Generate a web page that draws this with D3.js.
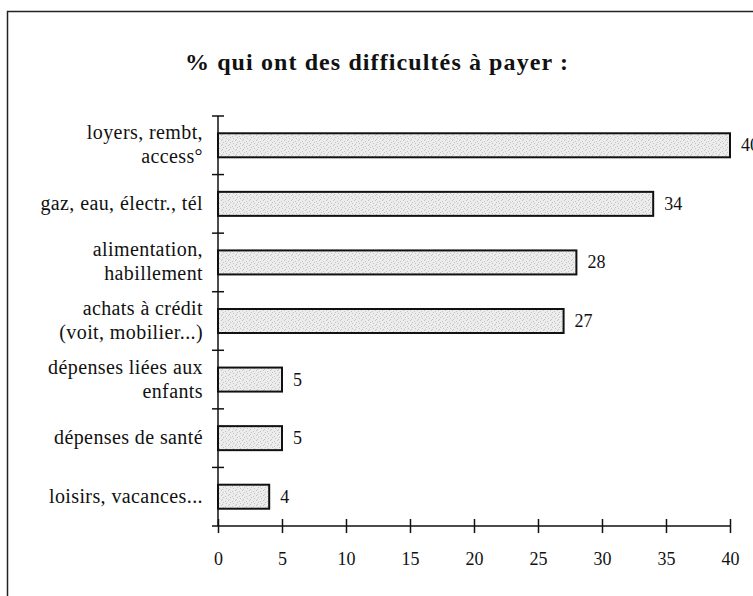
<!DOCTYPE html>
<html>
<head>
<meta charset="utf-8">
<style>
  body { margin: 0; background: #fff; }
  svg text { font-family: "Liberation Serif", "DejaVu Serif", serif; fill: #111; }
</style>
</head>
<body>
<script src="https://d3js.org/d3.v7.min.js"></script>
<script>

  // data
  var categories = [
    ["loyers, rembt,", "access°"],
    ["gaz, eau, électr., tél"],
    ["alimentation,", "habillement"],
    ["achats à crédit", "(voit, mobilier...)"],
    ["dépenses liées aux", "enfants"],
    ["dépenses de santé"],
    ["loisirs, vacances..."]
  ];
  var values = [40, 34, 28, 27, 5, 5, 4];
  var tickValues = [0, 5, 10, 15, 20, 25, 30, 35, 40];
  var title = "% qui ont des difficultés à payer :";

  var width = 753;
  var height = 596;

  var svg = d3.select("body")
      .append("svg")
      .attr("width", width)
      .attr("height", height)
      .attr("font-family", "'Liberation Serif', serif");

  // speckled grey fill like the scanned bars
  var pat = svg.append("defs").append("pattern")
      .attr("id", "speckle")
      .attr("patternUnits", "userSpaceOnUse")
      .attr("width", 7)
      .attr("height", 5);
  pat.append("rect").attr("width", 7).attr("height", 5).attr("fill", "#ececec");
  [[1, 1], [4, 0], [2, 3], [6, 2], [5, 4]].forEach(function (p) {
    pat.append("rect").attr("x", p[0]).attr("y", p[1])
        .attr("width", 1).attr("height", 1).attr("fill", "#c4c4c4");
  });

  // frame of the original page
  svg.append("path")
      .attr("d", "M7.5," + height + "V11.5H" + width)
      .attr("fill", "none")
      .attr("stroke", "#222")
      .attr("stroke-width", 1.5);

  svg.append("text")
      .attr("x", 377)
      .attr("y", 70)
      .attr("text-anchor", "middle")
      .style("font-size", "24px")
      .style("font-weight", "bold")
      .style("letter-spacing", "1.1px")
      .text(title);

  var idx = d3.range(values.length);

  var x = d3.scaleLinear()
      .domain([0, 40])
      .range([218, 730]);

  var y = d3.scaleBand()
      .domain(idx)
      .range([116, 526])
      .padding(0);

  var barH = y.bandwidth() * 0.41;

  // y axis line and ticks at category boundaries
  svg.append("line")
      .attr("x1", x(0)).attr("x2", x(0))
      .attr("y1", y.range()[0]).attr("y2", y.range()[1])
      .attr("stroke", "#111").attr("stroke-width", 1.5);

  var bounds = idx.map(function (i) { return y(i); });
  svg.selectAll(".ytick")
      .data(bounds)
      .enter()
        .append("line")
        .attr("class", "ytick")
        .attr("x1", x(0) - 6).attr("x2", x(0) + 6)
        .attr("y1", function (d) { return d; })
        .attr("y2", function (d) { return d; })
        .attr("stroke", "#111").attr("stroke-width", 1.5);

  // x axis
  var xAxis = d3.axisBottom(x)
      .tickValues(tickValues)
      .tickSize(14)
      .tickPadding(19);

  var gx = svg.append("g")
      .attr("transform", "translate(0," + (y.range()[1] - 7) + ")")
      .call(xAxis);
  gx.select(".domain").remove();
  gx.selectAll("line").attr("stroke", "#111").attr("stroke-width", 1.5);
  gx.selectAll("text")
      .style("font-size", "18px")
      .style("font-family", "'Liberation Serif', serif")
      .attr("fill", "#111");

  svg.append("line")
      .attr("x1", x(0) - 6).attr("x2", x(40))
      .attr("y1", y.range()[1]).attr("y2", y.range()[1])
      .attr("stroke", "#111").attr("stroke-width", 1.5);

  // bars
  svg.selectAll(".bar")
      .data(values)
      .enter()
        .append("rect")
        .attr("class", "bar")
        .attr("x", x(0))
        .attr("y", function (d, i) { return y(i) + (y.bandwidth() - barH) / 2; })
        .attr("width", function (d) { return x(d) - x(0); })
        .attr("height", barH)
        .attr("fill", "url(#speckle)")
        .attr("stroke", "#111")
        .attr("stroke-width", 2);

  // value labels
  svg.selectAll(".val")
      .data(values)
      .enter()
        .append("text")
        .attr("class", "val")
        .attr("x", function (d) { return x(d) + 11; })
        .attr("y", function (d, i) { return y(i) + y.bandwidth() / 2 + 6; })
        .style("font-size", "18px")
        .text(function (d) { return d; });

  // category labels, one or two lines
  var lab = svg.selectAll(".cat")
      .data(categories)
      .enter()
        .append("text")
        .attr("class", "cat")
        .attr("text-anchor", "end")
        .style("font-size", "20px")
        .style("letter-spacing", "0.4px")
        .attr("transform", function (d, i) {
          return "translate(203," + (y(i) + y.bandwidth() / 2) + ")";
        });

  lab.selectAll("tspan")
      .data(function (d) { return d; })
      .enter()
        .append("tspan")
        .attr("x", 0)
        .attr("y", function (d, j, nodes) {
          var n = nodes.length;
          return (j - (n - 1) / 2) * 24 + 6;
        })
        .text(function (d) { return d; });

</script>
</body>
</html>
